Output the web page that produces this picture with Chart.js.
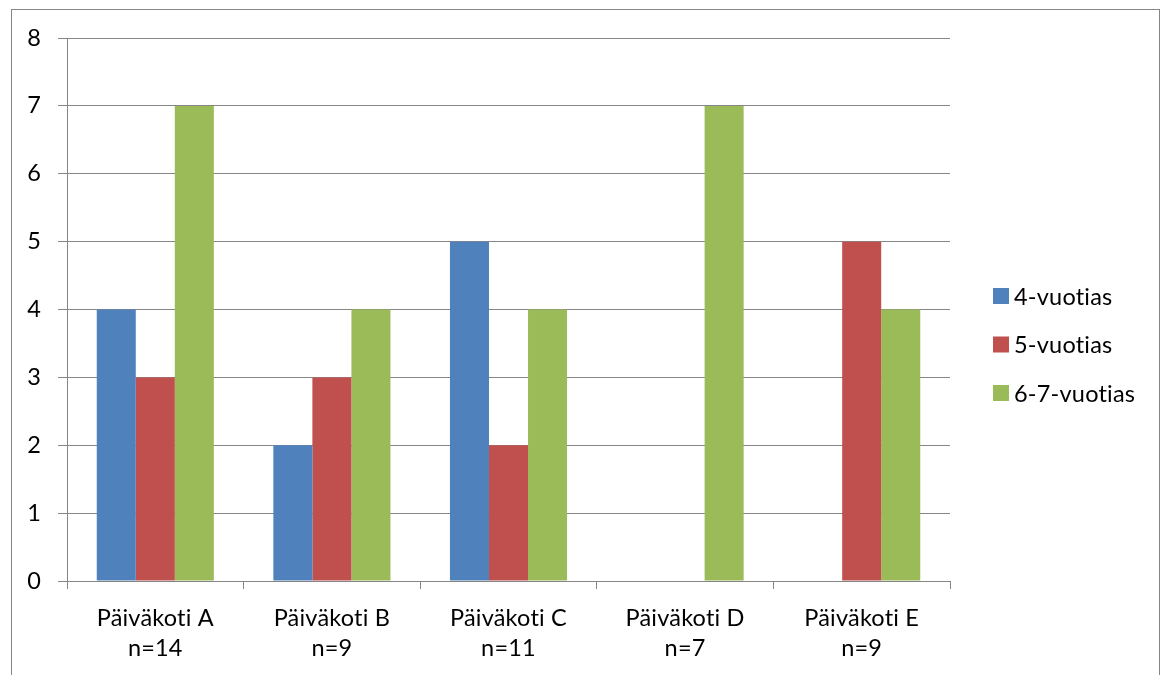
<!DOCTYPE html>
<html lang="fi">
<head>
<meta charset="utf-8">
<title>Päiväkodit ikäryhmittäin</title>
<script src="https://cdn.jsdelivr.net/npm/chart.js@4/dist/chart.umd.min.js"></script>
<style>
  html, body { margin: 0; padding: 0; background: #ffffff; overflow: hidden; }
  #frame {
    position: absolute; left: 11px; top: 9px; width: 1149px; height: 720px;
    border: 1px solid #868686; box-sizing: border-box;
  }
  #chart { position: absolute; left: 0; top: 0; }
</style>
</head>
<body>
<div id="frame"></div>
<canvas id="chart" width="1165" height="675"></canvas>
<script>
// Päiväkodit ja ryhmäkoot
const categories = [
  ["Päiväkoti A", "n=14"],
  ["Päiväkoti B", "n=9"],
  ["Päiväkoti C", "n=11"],
  ["Päiväkoti D", "n=7"],
  ["Päiväkoti E", "n=9"]
];
// Lasten määrät ikäryhmittäin
const seriesNames = ["4-vuotias", "5-vuotias", "6-7-vuotias"];
const age4 = [4, 2, 5, 0, 0];
const age5 = [3, 3, 2, 0, 5];
const age67 = [7, 4, 4, 7, 4];
const seriesColors = ["#4F81BD", "#C0504D", "#9BBB59"];
const yTicks = [0, 1, 2, 3, 4, 5, 6, 7, 8];

const FONT = "Lato, 'Open Sans', sans-serif";
const FONT_SIZE = 23.5;
const GRID = "#868686";

// Pieni kirjainväli estää "ti"-ligatuurin tekstissä
const textSetup = {
  id: "textSetup",
  beforeDraw(chart) {
    if ("letterSpacing" in chart.ctx) chart.ctx.letterSpacing = "0.2px";
  }
};

// Oikean reunan selite piirretään kaavion omalle kankaalle
const sideLegend = {
  id: "sideLegend",
  afterDraw(chart) {
    const { ctx, chartArea } = chart;
    const x = chartArea.right + 43;
    const yStart = 296;
    const step = 48.5;
    const box = 16;
    ctx.save();
    ctx.font = FONT_SIZE + "px " + FONT;
    ctx.textBaseline = "middle";
    ctx.textAlign = "left";
    chart.data.datasets.forEach((ds, i) => {
      const cy = yStart + i * step;
      ctx.fillStyle = ds.backgroundColor;
      ctx.fillRect(x, cy - box / 2, box, box);
      ctx.fillStyle = "#000000";
      ctx.fillText(ds.label, x + box + 5, cy + 1);
    });
    ctx.restore();
  }
};

const chart = new Chart(document.getElementById("chart"), {
  type: "bar",
  data: {
    labels: categories,
    datasets: [age4, age5, age67].map((values, i) => ({
      label: seriesNames[i],
      data: values,
      backgroundColor: seriesColors[i],
      borderWidth: 0,
      categoryPercentage: 0.663,
      barPercentage: 1.0
    }))
  },
  options: {
    responsive: false,
    devicePixelRatio: 1,
    animation: false,
    layout: { padding: { top: 38, right: 215, left: 0, bottom: 0 } },
    plugins: {
      legend: { display: false },
      tooltip: { enabled: false }
    },
    scales: {
      x: {
        afterFit(scale) { scale.height = 94; },
        grid: {
          display: true,
          drawOnChartArea: false,
          drawTicks: true,
          tickLength: 8,
          color: GRID,
          lineWidth: 1,
          offset: true
        },
        border: { display: true, color: GRID, width: 1 },
        ticks: {
          color: "#000000",
          font: { family: FONT, size: FONT_SIZE, lineHeight: "30px" },
          padding: 14,
          maxRotation: 0,
          autoSkip: false
        }
      },
      y: {
        min: 0,
        max: 8,
        afterFit(scale) { scale.width = 67; },
        afterBuildTicks(scale) { scale.ticks = yTicks.map(v => ({ value: v })); },
        grid: {
          color: GRID,
          lineWidth: 1,
          drawTicks: true,
          tickLength: 9
        },
        border: { display: true, color: GRID, width: 1 },
        ticks: {
          color: "#000000",
          font: { family: FONT, size: FONT_SIZE },
          padding: 17
        }
      }
    }
  },
  plugins: [textSetup, sideLegend]
});
</script>
</body>
</html>
